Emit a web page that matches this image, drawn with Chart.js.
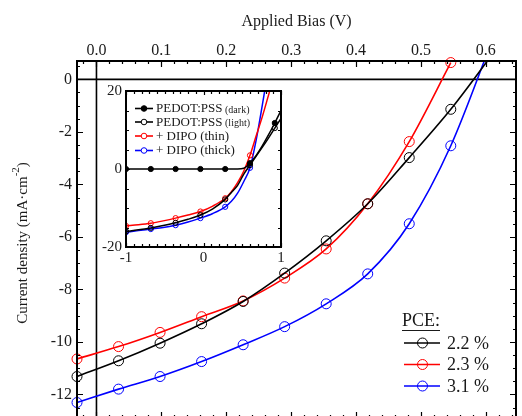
<!DOCTYPE html>
<html>
<head>
<meta charset="utf-8">
<script src="https://cdn.jsdelivr.net/npm/chart.js@4.4.1/dist/chart.umd.min.js"></script>
<style>
  html, body { margin: 0; padding: 0; background: #fff; }
  #wrap { position: relative; width: 522px; height: 416px; overflow: hidden; background: #fff; }
  #main { position: absolute; left: 0; top: 0; }
  #inset { position: absolute; left: 90px; top: 80px; }
</style>
</head>
<body>
<div id="wrap">
  <canvas id="main" width="522" height="424"></canvas>
  <canvas id="inset" width="200" height="190"></canvas>
</div>
<script>
// ---------- main chart data ----------
const mainV   = [-0.03, 0.034, 0.098, 0.162, 0.226, 0.29, 0.354, 0.418, 0.482, 0.546, 0.61];
const jBlack  = [-11.32, -10.72, -10.05, -9.31, -8.46, -7.38, -6.15, -4.74, -2.98, -1.14, 0.95];
const jRed    = [-10.65, -10.18, -9.64, -9.04, -8.44, -7.57, -6.46, -4.74, -2.37, 0.64];
const jBlue   = [-12.31, -11.80, -11.32, -10.75, -10.11, -9.42, -8.55, -7.41, -5.50, -2.53, 1.5];
const pceLabels = ['2.2 %', '2.3 %', '3.1 %'];
const xTickVals = [0, 0.1, 0.2, 0.3, 0.4, 0.5, 0.6];
const yTickVals = [0, -2, -4, -6, -8, -10, -12];

// ---------- inset data ----------
const insetV     = [-1, -0.84, -0.68, -0.52, -0.36, -0.2, -0.04, 0.12, 0.28, 0.36, 0.44, 0.52, 0.6, 0.68, 0.76, 0.84, 0.92, 1.0];
const insetMarkV = [-1, -0.68, -0.36, -0.04, 0.28, 0.6, 0.92];
const jDark  = [0, 0, 0, 0, 0, 0, 0, 0, 0, 0, 0, 0.2, 1.5, 3.5, 6, 8.8, 11.8, 15];
const jLight = [-16.0, -15.6, -15.1, -14.5, -13.8, -12.9, -11.8, -10.2, -7.8, -6.0, -4.2, -1.3, 1.0, 3.3, 5.6, 8.0, 10.5, 13];
const jThin  = [-14.6, -14.3, -13.9, -13.3, -12.6, -11.8, -10.9, -9.5, -7.5, -5.8, -3.5, -0.5, 3.5, 8.5, 13.5, 19, 24.5, 30];
const jThick = [-16.2, -15.8, -15.4, -15.0, -14.4, -13.6, -12.6, -11.4, -9.7, -8.3, -6.2, -3.2, 0.3, 7.5, 16.5, 26, 36, 46];
const insetLabels = [['PEDOT:PSS', ' (dark)'], ['PEDOT:PSS', ' (light)'], ['+ DIPO (thin)', ''], ['+ DIPO (thick)', '']];
const insetXTicks = [-1, 0, 1];
const insetYTicks = [20, 0, -20];

const FAMILY = '"Liberation Serif", "Times New Roman", serif';
const TXT = '#1a1a1a';

function pts(xs, ys) { return ys.map((v, i) => ({ x: xs[i], y: v })); }

function frameTicksPlugin(o) {
  return {
    id: 'frameTicks',
    beforeDraw(chart) {
      if (!o.fill) return;
      const { ctx, chartArea: a } = chart;
      ctx.save(); ctx.fillStyle = '#fff';
      ctx.fillRect(a.left, a.top, a.right - a.left, a.bottom - a.top);
      ctx.restore();
    },
    beforeDatasetsDraw(chart) {
      if (!o.zero) return;
      const { ctx, chartArea: a, scales: { x, y } } = chart;
      ctx.save(); ctx.strokeStyle = '#000'; ctx.lineWidth = 1.6;
      const py = y.getPixelForValue(0), px = x.getPixelForValue(0);
      ctx.beginPath();
      ctx.moveTo(a.left, py); ctx.lineTo(a.right, py);
      ctx.moveTo(px, a.top); ctx.lineTo(px, a.bottom);
      ctx.stroke(); ctx.restore();
    },
    afterDatasetsDraw(chart) {
      const { ctx, chartArea: a, scales: { x, y } } = chart;
      ctx.save(); ctx.strokeStyle = '#000'; ctx.lineWidth = 1.2;
      const isMajor = (v, step) => Math.abs(v / step - Math.round(v / step)) < 1e-6;
      ctx.beginPath();
      for (let i = Math.ceil(x.min / o.xMinor - 1e-9); i * o.xMinor <= x.max + 1e-9; i++) {
        const v = i * o.xMinor, px = Math.round(x.getPixelForValue(v)) + 0.5;
        const len = isMajor(v, o.xMajor) ? o.majLen : o.minLen;
        ctx.moveTo(px, a.top); ctx.lineTo(px, a.top + len);
        ctx.moveTo(px, a.bottom); ctx.lineTo(px, a.bottom - len);
      }
      for (let i = Math.ceil(y.min / o.yMinor - 1e-9); i * o.yMinor <= y.max + 1e-9; i++) {
        const v = i * o.yMinor, py = Math.round(y.getPixelForValue(v)) + 0.5;
        const len = isMajor(v, o.yMajor) ? o.majLen : o.minLen;
        ctx.moveTo(a.left, py); ctx.lineTo(a.left + len, py);
        ctx.moveTo(a.right, py); ctx.lineTo(a.right - len, py);
      }
      ctx.stroke();
      ctx.lineWidth = o.frameW;
      ctx.strokeRect(a.left, a.top, a.right - a.left, a.bottom - a.top);
      ctx.restore();
    }
  };
}

// ---------------- MAIN CHART ----------------
const mainColors = ['#000000', '#ff0000', '#0000ff'];
const mainSeries = [jBlack, jRed, jBlue];

const mainLegendPlugin = {
  id: 'mainLegend',
  afterDraw(chart) {
    const { ctx, chartArea: a } = chart;
    ctx.save();
    // y-axis title with superscript
    ctx.translate(23, 243);
    ctx.rotate(-Math.PI / 2);
    ctx.fillStyle = TXT; ctx.textBaseline = 'middle'; ctx.textAlign = 'left';
    const p1 = 'Current density (mA·cm', p2 = '-2', p3 = ')';
    ctx.font = '15px ' + FAMILY; const w1 = ctx.measureText(p1).width, w3 = ctx.measureText(p3).width;
    ctx.font = '11px ' + FAMILY; const w2 = ctx.measureText(p2).width;
    const total = w1 + w2 + w3; let sx = -total / 2;
    ctx.font = '15px ' + FAMILY; ctx.fillText(p1, sx, 0);
    ctx.font = '11px ' + FAMILY; ctx.fillText(p2, sx + w1, -7);
    ctx.font = '15px ' + FAMILY; ctx.fillText(p3, sx + w1 + w2, 0);
    ctx.restore();

    // PCE legend
    ctx.save();
    ctx.fillStyle = TXT; ctx.textBaseline = 'middle'; ctx.textAlign = 'left';
    ctx.font = '18px ' + FAMILY;
    const hx = 402, hy = 321;
    ctx.fillText('PCE:', hx, hy);
    const hw = ctx.measureText('PCE:').width;
    ctx.strokeStyle = TXT; ctx.lineWidth = 1;
    ctx.beginPath(); ctx.moveTo(hx, hy + 9.5); ctx.lineTo(hx + hw, hy + 9.5); ctx.stroke();
    const rows = [343, 364.5, 386];
    chart.data.datasets.forEach((ds, i) => {
      const yy = rows[i];
      ctx.strokeStyle = ds.borderColor; ctx.lineWidth = 1.6;
      ctx.beginPath(); ctx.moveTo(404, yy); ctx.lineTo(440, yy); ctx.stroke();
      ctx.lineWidth = 1;
      ctx.beginPath(); ctx.arc(422.5, yy, 5, 0, Math.PI * 2); ctx.stroke();
      ctx.fillStyle = TXT;
      ctx.fillText(pceLabels[i], 447, yy + 1);
    });
    ctx.restore();
  }
};

new Chart(document.getElementById('main'), {
  type: 'line',
  data: {
    datasets: mainSeries.map((s, i) => ({
      label: pceLabels[i],
      data: pts(mainV, s),
      borderColor: mainColors[i],
      pointBorderColor: mainColors[i],
      pointBackgroundColor: 'rgba(0,0,0,0)',
      borderWidth: 1.6,
      pointRadius: 5,
      pointBorderWidth: 1,
      cubicInterpolationMode: 'monotone',
      clip: i === 1 ? { left: 8, top: 8, right: 0, bottom: 8 } : { left: 8, top: 0, right: 0, bottom: 8 }
    }))
  },
  options: {
    responsive: false, animation: false, devicePixelRatio: 1,
    layout: { padding: { left: 0, top: 0, right: 4, bottom: 6 } },
    plugins: { legend: { display: false }, tooltip: { enabled: false } },
    scales: {
      x: {
        type: 'linear', position: 'top', min: -0.03, max: 0.6465,
        afterBuildTicks: s => { s.ticks = xTickVals.map(v => ({ value: v })); },
        afterFit: s => { s.height = 61; s.paddingLeft = 0; s.paddingRight = 0; },
        grid: { display: false, drawTicks: false }, border: { display: false },
        ticks: { padding: 1, autoSkip: false, maxRotation: 0, color: TXT,
                 font: { family: FAMILY, size: 16 }, callback: v => Number(v).toFixed(1) },
        title: { display: true, text: 'Applied Bias (V)', color: TXT,
                 font: { family: FAMILY, size: 16 }, padding: { top: 12, bottom: 0 } }
      },
      y: {
        type: 'linear', min: -12.9, max: 0.70,
        afterBuildTicks: s => { s.ticks = yTickVals.map(v => ({ value: v })); },
        afterFit: s => { s.width = 77; s.paddingTop = 0; s.paddingBottom = 0; },
        grid: { display: false, drawTicks: false }, border: { display: false },
        ticks: { padding: 5, autoSkip: false, color: TXT,
                 font: { family: FAMILY, size: 16 }, callback: v => String(v) }
      }
    }
  },
  plugins: [frameTicksPlugin({ zero: true, xMinor: 0.02, xMajor: 0.1, yMinor: 0.5, yMajor: 2, majLen: 6, minLen: 3, frameW: 2 }), mainLegendPlugin]
});

// ---------------- INSET CHART ----------------
const insetColors = ['#000000', '#000000', '#ff0000', '#0000ff'];
const insetFill = ['#000000', 'rgba(0,0,0,0)', 'rgba(0,0,0,0)', 'rgba(0,0,0,0)'];
const insetSeries = [jDark, jLight, jThin, jThick];

const insetLegendPlugin = {
  id: 'insetLegend',
  afterDraw(chart) {
    const { ctx } = chart;
    const ox = -90, oy = -80; // page -> canvas offset
    const rows = [108.5, 122, 136, 150.5];
    ctx.save();
    ctx.textBaseline = 'middle'; ctx.textAlign = 'left';
    chart.data.datasets.forEach((ds, i) => {
      const yy = rows[i] + oy;
      ctx.strokeStyle = ds.borderColor; ctx.lineWidth = 1.6;
      ctx.beginPath(); ctx.moveTo(135 + ox, yy); ctx.lineTo(153 + ox, yy); ctx.stroke();
      ctx.lineWidth = 1; ctx.fillStyle = insetFill[i] === '#000000' ? '#000' : '#fff';
      ctx.beginPath(); ctx.arc(144 + ox, yy, 2.8, 0, Math.PI * 2);
      ctx.fill(); ctx.stroke();
      ctx.fillStyle = TXT;
      ctx.font = '13px ' + FAMILY;
      const [a1, a2] = insetLabels[i];
      ctx.fillText(a1, 156 + ox, yy + 0.5);
      if (a2) {
        const w = ctx.measureText(a1).width;
        ctx.font = '10px ' + FAMILY;
        ctx.fillText(a2, 156 + ox + w, yy + 1.5);
      }
    });
    ctx.restore();
  }
};

new Chart(document.getElementById('inset'), {
  type: 'line',
  data: {
    datasets: insetSeries.map((s, i) => ({
      label: insetLabels[i].join(''),
      data: pts(insetV, s),
      borderColor: insetColors[i],
      pointBorderColor: insetColors[i],
      pointBackgroundColor: insetFill[i],
      borderWidth: 1.5,
      pointBorderWidth: 1,
      pointRadius: ctx => insetMarkV.includes(insetV[ctx.dataIndex]) ? 2.6 : 0,
      cubicInterpolationMode: 'monotone'
    }))
  },
  options: {
    responsive: false, animation: false, devicePixelRatio: 1,
    layout: { padding: { left: 0, top: 11, right: 9, bottom: 0 } },
    plugins: { legend: { display: false }, tooltip: { enabled: false } },
    scales: {
      x: {
        type: 'linear', min: -1, max: 1,
        afterBuildTicks: s => { s.ticks = insetXTicks.map(v => ({ value: v })); },
        afterFit: s => { s.height = 23; s.paddingLeft = 0; s.paddingRight = 0; },
        grid: { display: false, drawTicks: false }, border: { display: false },
        ticks: { padding: 2, autoSkip: false, maxRotation: 0, color: TXT,
                 font: { family: FAMILY, size: 15 }, callback: v => String(v) }
      },
      y: {
        type: 'linear', min: -20, max: 20,
        afterBuildTicks: s => { s.ticks = insetYTicks.map(v => ({ value: v })); },
        afterFit: s => { s.width = 36; s.paddingTop = 0; s.paddingBottom = 0; },
        grid: { display: false, drawTicks: false }, border: { display: false },
        ticks: { padding: 4, autoSkip: false, color: TXT,
                 font: { family: FAMILY, size: 15 }, callback: v => String(v) }
      }
    }
  },
  plugins: [frameTicksPlugin({ fill: true, zero: false, xMinor: 0.1, xMajor: 1, yMinor: 5, yMajor: 20, majLen: 4, minLen: 3, frameW: 2 }), insetLegendPlugin]
});
</script>
</body>
</html>
